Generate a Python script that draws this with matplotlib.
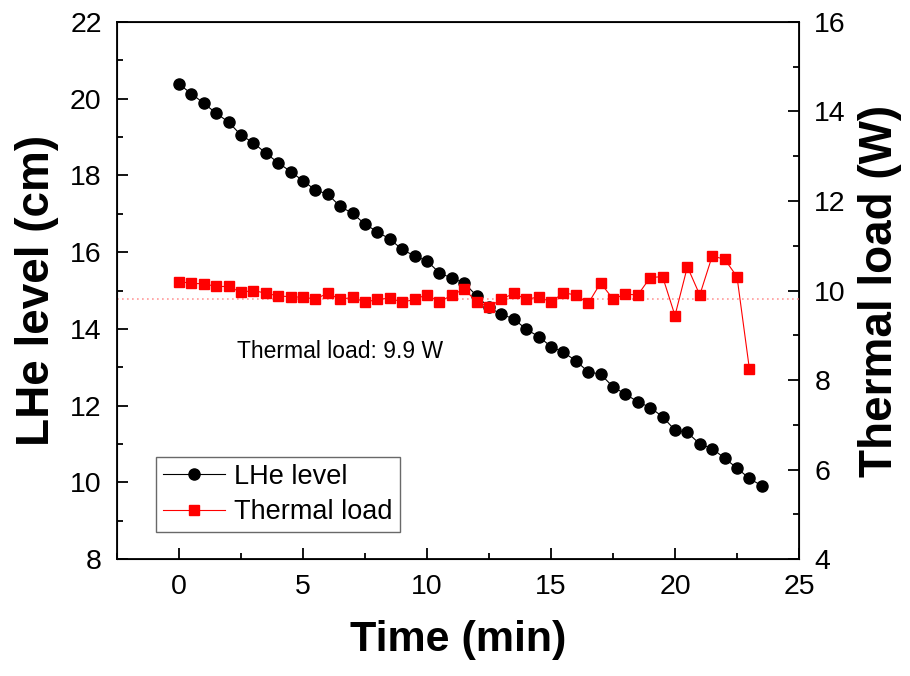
import numpy as np
import matplotlib
matplotlib.use("Agg")
import matplotlib.pyplot as plt
from matplotlib.ticker import MultipleLocator

plt.rcParams["font.family"] = ["Liberation Sans", "DejaVu Sans"]

# LHe level (cm), 0.5 min 간격
time_lhe = [0, 0.5, 1, 1.5, 2, 2.5, 3, 3.5, 4, 4.5, 5, 5.5, 6, 6.5, 7, 7.5,
            8, 8.5, 9, 9.5, 10, 10.5, 11, 11.5, 12, 12.5, 13, 13.5, 14, 14.5,
            15, 15.5, 16, 16.5, 17, 17.5, 18, 18.5, 19, 19.5, 20, 20.5, 21,
            21.5, 22, 22.5, 23, 23.5]
lhe_level = [20.38, 20.13, 19.88, 19.62, 19.39, 19.05, 18.85, 18.58, 18.33,
             18.10, 17.86, 17.62, 17.51, 17.19, 17.01, 16.73, 16.53, 16.34,
             16.07, 15.90, 15.77, 15.46, 15.32, 15.20, 14.86, 14.56, 14.38,
             14.26, 13.99, 13.80, 13.54, 13.39, 13.17, 12.88, 12.82, 12.49,
             12.30, 12.10, 11.95, 11.71, 11.36, 11.30, 11.00, 10.88, 10.63,
             10.37, 10.10, 9.91]

# Thermal load (W), 마지막 점은 23 min
time_load = time_lhe[:-1]
thermal_load = [10.20, 10.16, 10.15, 10.09, 10.09, 9.96, 10.00, 9.94, 9.88,
                9.86, 9.85, 9.81, 9.94, 9.80, 9.85, 9.74, 9.80, 9.83, 9.74,
                9.80, 9.91, 9.74, 9.90, 10.03, 9.75, 9.64, 9.80, 9.94, 9.80,
                9.86, 9.74, 9.95, 9.90, 9.71, 10.17, 9.81, 9.92, 9.90, 10.29,
                10.31, 9.44, 10.53, 9.90, 10.77, 10.70, 10.31, 8.25]
mean_load = 9.8


def style_ticks(ax, which_side):
    ax.tick_params(axis="both", which="major", direction="in", length=8,
                   width=1.3, labelsize=20.5, pad=11)
    ax.tick_params(axis="both", which="minor", direction="in", length=4,
                   width=1.3)
    ax.tick_params(axis="y", which="both", left=(which_side == "left"),
                   right=(which_side == "right"))


fig = plt.figure(figsize=(9.1, 6.76), dpi=100)
ax = fig.add_axes([0.1286, 0.173, 0.7494, 0.7945])
ax2 = ax.twinx()

for sp in ax.spines.values():
    sp.set_linewidth(1.3)

ax.plot(time_lhe, lhe_level, "-o", color="k", lw=0.8, ms=8,
        label="LHe level")
ax2.axhline(mean_load, color="#ff9a9a", lw=1.2, ls=(0, (1, 2)))
ax2.plot(time_load, thermal_load, "-s", color="#ff0000", lw=0.8, ms=7,
         mec="#ff0000", label="Thermal load")

ax.set_xlim(-2.5, 25)
ax.set_ylim(8, 22)
ax2.set_ylim(4, 16)
ax.xaxis.set_major_locator(MultipleLocator(5))
ax.xaxis.set_minor_locator(MultipleLocator(2.5))
ax.yaxis.set_major_locator(MultipleLocator(2))
ax.yaxis.set_minor_locator(MultipleLocator(1))
ax2.yaxis.set_major_locator(MultipleLocator(2))
ax2.yaxis.set_minor_locator(MultipleLocator(1))
style_ticks(ax, "left")
style_ticks(ax2, "right")
ax.tick_params(axis="x", which="both", top=False)

ax.set_xlabel("Time (min)", fontsize=31, fontweight="bold", labelpad=14)
ax.set_ylabel("LHe level (cm)", fontsize=33, fontweight="bold", labelpad=8)
ax2.set_ylabel("Thermal load (W)", fontsize=33, fontweight="bold",
               labelpad=9)

ax.text(2.35, 13.4, "Thermal load: 9.9 W", fontsize=16.5, va="center",
        ha="left")

h1, l1 = ax.get_legend_handles_labels()
h2, l2 = ax2.get_legend_handles_labels()
leg = ax2.legend(h1 + h2, l1 + l2, loc="lower left",
                 bbox_to_anchor=(0.057, 0.05), borderaxespad=0,
                 fontsize=19.5, fancybox=False, frameon=True,
                 handlelength=2.3, handletextpad=0.35, labelspacing=0.35,
                 borderpad=0.25)
leg.get_frame().set_edgecolor("#444444")
leg.get_frame().set_linewidth(1.0)

fig.savefig("out.png", dpi=100)
